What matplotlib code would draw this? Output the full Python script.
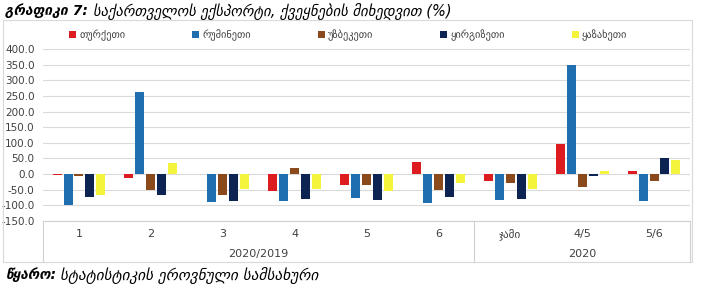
import matplotlib.pyplot as plt
import numpy as np

plt.rcParams['font.family'] = ['DejaVu Sans']

# ---- data ----
categories = ['1', '2', '3', '4', '5', '6', 'ჯამი', '4/5', '5/6']
groups = ['2020/2019', '2020']
group_sizes = [6, 3]
countries = ['თურქეთი', 'რუმინეთი', 'უზბეკეთი', 'ყირგიზეთი', 'ყაზახეთი']
turkey = [-4, -11, -1, -55, -34, 38, -21, 97, 11]
romania = [-98, 262, -90, -86, -75, -91, -82, 349, -86]
uzbekistan = [-7, -50, -66, 21, -36, -50, -29, -42, -22]
kyrgyzstan = [-72, -66, -87, -80, -84, -72, -80, -5, 53]
kazakhstan = [-68, 37, -47, -47, -55, -29, -48, 10, 46]
series = [turkey, romania, uzbekistan, kyrgyzstan, kazakhstan]
colors = ['#DC1C1F', '#1F6FB0', '#8B4A1B', '#0D2452', '#F4F43C']

W, H = 704, 291
fig = plt.figure(figsize=(W / 100, H / 100), dpi=100)

left, right, top, bottom = 43, 690, 49, 221
ax = fig.add_axes([left / W, 1 - bottom / H, (right - left) / W, (bottom - top) / H])

x = np.arange(len(categories))
width = 0.125
step = 0.152
for i, (vals, c, name) in enumerate(zip(series, colors, countries)):
    ax.bar(x + (i - 2) * step, vals, width, color=c, label=name, zorder=3)

ax.set_xlim(-0.5, len(categories) - 0.5)
ax.set_ylim(-150, 400)
ax.set_yticks(np.arange(-150, 401, 50))
ax.set_yticklabels([f'{v:.1f}' for v in np.arange(-150, 401, 50)], fontsize=7.5, color='#404040')
ax.yaxis.grid(True, color='#DADADA', linewidth=0.8, zorder=0)
ax.tick_params(axis='y', length=0, pad=6)
ax.set_xticks([])
for s in ['top', 'right', 'left']:
    ax.spines[s].set_visible(False)
ax.spines['bottom'].set_color('#D0D0D0')

# category table below the axis
def fy(py):
    return 1 - py / H

def fx(px):
    return px / W

for i, cat in enumerate(categories):
    ax.text(i, -0.075, cat, transform=ax.get_xaxis_transform(), ha='center', va='center',
            fontsize=8, color='#404040')
start = 0
sep_x = [left]
for g, n in zip(groups, group_sizes):
    mid = start + (n - 1) / 2
    ax.text(mid, -0.19, g, transform=ax.get_xaxis_transform(), ha='center', va='center',
            fontsize=8, color='#404040')
    start += n
    sep_x.append(left + (right - left) * start / len(categories))
for sx in sep_x:
    fig.add_artist(plt.Line2D([fx(sx), fx(sx)], [fy(bottom), fy(262)], color='#D0D0D0', lw=0.8))

# outer chart border
fig.add_artist(plt.Rectangle((fx(3), fy(262)), fx(692) - fx(3), fy(20) - fy(262),
                             fill=False, edgecolor='#D9D9D9', lw=0.8))

# legend
ax.legend(loc='center', bbox_to_anchor=(fx(348), fy(35)),
          bbox_transform=fig.transFigure, ncol=5, frameon=False, fontsize=7.5,
          handlelength=0.7, handleheight=0.7, handletextpad=0.3, columnspacing=6.4,
          labelcolor='#404040')

# title and source
t1 = fig.text(fx(5), fy(11), 'გრაფიკი 7:', fontsize=10, fontweight='bold', style='italic',
              va='center', ha='left')
fig.add_artist(plt.Annotation('საქართველოს ექსპორტი, ქვეყნების მიხედვით (%)', xy=(1, 0.5),
                              xycoords=t1, xytext=(4, 0), textcoords='offset points',
                              fontsize=10.5, style='italic', va='center', ha='left'))
s1 = fig.text(fx(5), fy(275), 'წყარო:', fontsize=10, fontweight='bold', style='italic',
              va='center', ha='left')
fig.add_artist(plt.Annotation('სტატისტიკის ეროვნული სამსახური', xy=(1, 0.5),
                              xycoords=s1, xytext=(3, 0), textcoords='offset points',
                              fontsize=11, style='italic', va='center', ha='left'))

fig.savefig('out.png', dpi=100)
